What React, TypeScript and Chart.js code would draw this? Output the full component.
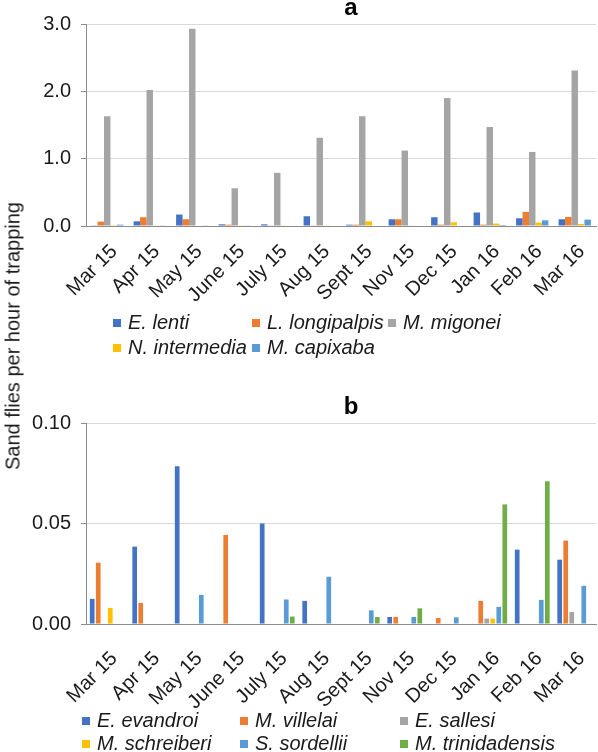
import React, { useEffect, useRef } from "react";
import { Chart, registerables } from "chart.js";

Chart.register(...registerables);

// ---------- data ----------
const months = [
  "Mar 15", "Apr 15", "May 15", "June 15", "July 15", "Aug 15",
  "Sept 15", "Nov 15", "Dec 15", "Jan 16", "Feb 16", "Mar 16",
];

// Panel a
const namesA = ["E. lenti", "L. longipalpis", "M. migonei", "N. intermedia", "M. capixaba"];
const eLenti = [0.01, 0.07, 0.17, 0.025, 0.025, 0.145, 0.02, 0.1, 0.13, 0.2, 0.115, 0.1];
const lLongipalpis = [0.065, 0.13, 0.1, 0.02, 0.005, 0.01, 0.02, 0.1, 0.02, 0.02, 0.21, 0.135];
const mMigonei = [1.63, 2.02, 2.93, 0.56, 0.79, 1.31, 1.63, 1.12, 1.9, 1.47, 1.1, 2.31];
const nIntermedia = [0.003, 0.005, 0.0, 0.01, 0.005, 0.005, 0.07, 0.005, 0.055, 0.035, 0.05, 0.03];
const mCapixaba = [0.02, 0.01, 0.005, 0.01, 0.0, 0.0, 0.0, 0.0, 0.0, 0.015, 0.085, 0.095];
const seriesA = [eLenti, lLongipalpis, mMigonei, nIntermedia, mCapixaba];
const yTicksA = [0, 1, 2, 3];

// Panel b
const namesB = ["E. evandroi", "M. villelai", "E. sallesi", "M. schreiberi", "S. sordellii", "M. trinidadensis"];
const eEvandroi = [0.0125, 0.0385, 0.0785, 0, 0.05, 0.0115, 0, 0.0035, 0, 0, 0.037, 0.032];
const mVillelai = [0.0305, 0.0105, 0, 0.0443, 0, 0, 0, 0.0035, 0.003, 0.0115, 0, 0.0415];
const eSallesi = [0, 0, 0, 0, 0, 0, 0, 0, 0, 0.0027, 0, 0.006];
const mSchreiberi = [0.008, 0, 0, 0, 0, 0, 0, 0, 0, 0.0027, 0, 0];
const sSordellii = [0, 0, 0.0145, 0, 0.0122, 0.0235, 0.0068, 0.0035, 0.0033, 0.0085, 0.012, 0.019];
const mTrinidadensis = [0, 0, 0, 0, 0.0037, 0, 0.0035, 0.0078, 0, 0.0595, 0.071, 0];
const seriesB = [eEvandroi, mVillelai, eSallesi, mSchreiberi, sSordellii, mTrinidadensis];
const yTicksB = [0, 0.05, 0.1];

const colorsA = ["#4472C4", "#ED7D31", "#A5A5A5", "#FFC000", "#5B9BD5"];
const colorsB = ["#4472C4", "#ED7D31", "#A5A5A5", "#FFC000", "#5B9BD5", "#70AD47"];

const FONT = '"Liberation Sans", Arial, Helvetica, sans-serif';
const TEXT = "#1a1a1a";
const AXIS = "#8c8c8c";
const GRID = "#d9d9d9";

type PanelProps = {
  title: string;
  names: string[];
  series: number[][];
  colors: string[];
  yTicks: number[];
  decimals: number;
  catPct: number;
  barPct: number;
  top: number;
  height: number;
  padTop: number;
  xAxisHeight: number;
  xLabelPad: number;
};

function BarPanel(p: PanelProps) {
  const ref = useRef<HTMLCanvasElement | null>(null);
  useEffect(() => {
    if (!ref.current) return;
    const titlePlugin = {
      id: "panelTitle",
      afterDraw(chart: any) {
        const { ctx, chartArea } = chart;
        ctx.save();
        ctx.font = `bold 24px ${FONT}`;
        ctx.fillStyle = "#000";
        ctx.textAlign = "center";
        ctx.textBaseline = "alphabetic";
        ctx.fillText(p.title, (chartArea.left + chartArea.right) / 2 + 10, chartArea.top - 9);
        ctx.restore();
      },
    };
    const chart = new Chart(ref.current, {
      type: "bar",
      data: {
        labels: months,
        datasets: p.names.map((n, i) => ({
          label: n,
          data: p.series[i],
          backgroundColor: p.colors[i],
          borderWidth: 0,
          categoryPercentage: p.catPct,
          barPercentage: p.barPct,
        })),
      },
      options: {
        animation: false,
        responsive: false,
        maintainAspectRatio: false,
        devicePixelRatio: 1,
        layout: { padding: { top: p.padTop, right: 2, left: 0, bottom: 0 } },
        plugins: {
          legend: { display: false },
          tooltip: { enabled: false },
          title: { display: false },
        },
        scales: {
          x: {
            grid: { display: false, drawTicks: false },
            border: { display: true, color: AXIS, width: 1 },
            ticks: {
              font: { family: FONT, size: 20 },
              color: TEXT,
              maxRotation: 45,
              minRotation: 45,
              padding: p.xLabelPad,
              labelOffset: 7,
              autoSkip: false,
            },
            afterFit: (s: any) => {
              s.height = p.xAxisHeight;
              s.paddingLeft = 0;
              s.paddingRight = 0;
            },
          },
          y: {
            min: 0,
            max: p.yTicks[p.yTicks.length - 1],
            afterBuildTicks: (s: any) => {
              s.ticks = p.yTicks.map((v) => ({ value: v }));
            },
            grid: { color: GRID, tickColor: AXIS, tickLength: 5, drawTicks: true },
            border: { display: true, color: AXIS, width: 1 },
            ticks: {
              font: { family: FONT, size: 20 },
              color: TEXT,
              padding: 10,
              callback: (v: any) => Number(v).toFixed(p.decimals),
            },
            afterFit: (s: any) => {
              s.width = 86;
              s.paddingTop = 0;
              s.paddingBottom = 0;
            },
          },
        },
      },
      plugins: [titlePlugin],
    } as any);
    return () => chart.destroy();
  }, []);
  return (
    <canvas
      ref={ref}
      width={598}
      height={p.height}
      style={{ position: "absolute", left: 0, top: p.top, width: 598, height: p.height, display: "block" }}
    />
  );
}

function Legend({ names, colors, left, top, cols, rowH }: { names: string[]; colors: string[]; left: number; top: number; cols: number[]; rowH: number }) {
  return (
    <div
      style={{
        position: "absolute",
        left,
        top,
        display: "grid",
        gridTemplateColumns: cols.map((c) => `${c}px`).join(" ") + " auto",
        fontFamily: FONT,
        fontSize: 20,
        fontStyle: "italic",
        color: TEXT,
        lineHeight: `${rowH}px`,
        whiteSpace: "nowrap",
      }}
    >
      {names.map((n, i) => (
        <div key={n} style={{ display: "flex", alignItems: "center", height: rowH }}>
          <span style={{ display: "inline-block", width: 8, height: 8, background: colors[i], marginRight: 7, flex: "none" }} />
          <span>{n}</span>
        </div>
      ))}
    </div>
  );
}

export default function App() {
  return (
    <div style={{ position: "absolute", left: 0, top: 0, width: 598, height: 752, background: "#fff", overflow: "hidden" }}>
      <BarPanel
        title="a"
        names={namesA}
        series={seriesA}
        colors={colorsA}
        yTicks={yTicksA}
        decimals={1}
        catPct={0.76}
        barPct={1}
        top={0}
        height={376}
        padTop={24}
        xAxisHeight={150}
        xLabelPad={14}
      />
      <BarPanel
        title="b"
        names={namesB}
        series={seriesB}
        colors={colorsB}
        yTicks={yTicksB}
        decimals={2}
        catPct={0.85}
        barPct={0.78}
        top={376}
        height={376}
        padTop={47}
        xAxisHeight={128}
        xLabelPad={23}
      />
      <Legend names={namesA} colors={colorsA} left={113} top={310} cols={[139, 136]} rowH={25} />
      <Legend names={namesB} colors={colorsB} left={82} top={709} cols={[158, 160]} rowH={23} />
      <div
        style={{
          position: "absolute",
          left: 13,
          top: 336,
          transform: "translate(-50%, -50%) rotate(-90deg)",
          whiteSpace: "nowrap",
          fontFamily: FONT,
          fontSize: 20,
          color: TEXT,
        }}
      >
        Sand flies per hour of trapping
      </div>
    </div>
  );
}
